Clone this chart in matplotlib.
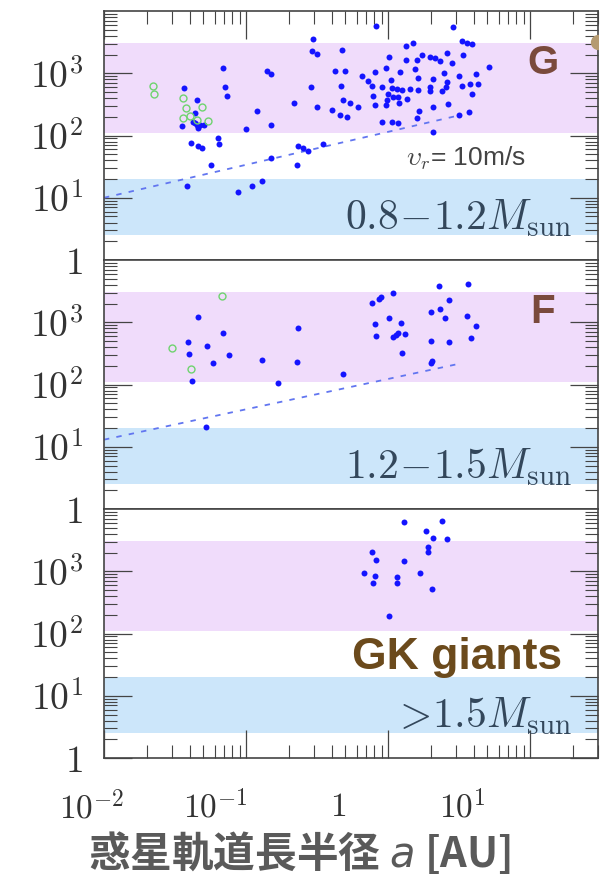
import numpy as np
import matplotlib.pyplot as plt
from matplotlib.ticker import LogLocator, NullFormatter

# semi-major axis a [AU] and mass values, read per stellar class
g_a = [0.069, 0.0366, 0.071, 0.073, 0.045, 0.141, 0.150, 0.218, 0.119, 0.0437,
       0.0354, 0.0424, 0.045, 0.0474, 0.0506, 0.0459, 0.0437, 0.100, 0.150, 0.041,
       0.0459, 0.049, 0.0636, 0.0646, 0.0567, 0.0385, 0.088, 0.110, 0.130, 0.150,
       0.232, 0.229, 0.252, 0.273, 0.348,
       0.82, 2.87, 0.296, 0.292, 0.316, 0.474, 1.34, 1.50, 3.32, 3.59,
       3.91, 0.424, 0.498, 0.287, 0.467, 0.656, 0.81, 0.968, 1.02, 1.34,
       1.60, 1.55, 1.73, 1.98, 2.14, 2.32, 2.60, 2.82, 3.37, 5.14,
       1.22, 1.63, 2.07, 2.48, 2.60, 3.16, 4.17, 3.78, 4.30, 3.32,
       3.91, 0.723, 0.771, 0.908, 1.05, 1.07, 1.16, 1.26, 1.43, 1.63,
       1.98, 1.98, 2.40, 2.56, 1.0, 1.08, 1.18, 1.36, 0.984, 1.19,
       0.784, 0.81, 0.968, 2.07, 2.65, 1.65, 1.60, 0.482, 0.54, 0.615,
       0.316, 0.404, 0.459, 0.514, 0.908, 1.07, 1.18, 2.07, 3.16, 3.72]
g_m = [1200, 573, 594, 425, 367, 1077, 963, 328, 244, 226,
       140, 162, 150, 145, 150, 130, 156, 125, 150, 77,
       69, 62, 90, 72, 34, 15.6, 12.5, 15.6, 18.8, 44,
       67, 34, 62, 57, 72,
       5730, 5520, 3530, 2260, 2020, 2350, 2720, 3050, 3280, 3050,
       2940, 1080, 1080, 594, 617, 895, 1040, 1200, 1810, 1620,
       1620, 1160, 1950, 1810, 1750, 1560, 2100, 1450, 1950, 1250,
       1040, 830, 800, 1000, 716, 895, 963, 665, 665, 617,
       458, 743, 617, 594, 771, 573, 552, 532, 552, 532,
       594, 513, 513, 594, 458, 410, 410, 381, 367, 328,
       425, 305, 305, 283, 316, 244, 188, 367, 328, 283,
       283, 253, 210, 195, 162, 162, 156, 112, 210, 235]
g_open_a = [0.022, 0.0225, 0.036, 0.038, 0.049, 0.036, 0.040, 0.054, 0.045]
g_open_m = [617, 458, 395, 272, 283, 188, 202, 168, 175]

f_a = [0.0459, 0.0391, 0.0397, 0.0531, 0.0689, 0.0759, 0.0586, 0.0417, 0.130, 0.168,
       0.229, 0.232, 0.0522, 2.29, 3.66, 0.771, 0.865, 0.894, 1.08, 2.69,
       2.32, 2.01, 2.52, 3.60, 1.02, 0.81, 1.24, 4.17, 0.822, 1.08,
       1.18, 1.32, 1.14, 2.01, 2.69, 3.84, 1.26, 2.04, 2.01, 0.482]
f_m = [1200, 479, 308, 413, 667, 296, 221, 114, 247, 106,
       229, 802, 20.9, 3770, 4060, 2010, 2330, 2510, 2910, 2250,
       1610, 1450, 1160, 1250, 1160, 929, 964, 863, 597, 575,
       667, 643, 619, 497, 479, 555, 319, 238, 221, 147]
f_open_a = [0.0678, 0.0301, 0.041]
f_open_m = [2610, 384, 177]

gk_a = [1.30, 2.40, 1.85, 2.07, 2.60, 1.91, 1.91, 0.771, 0.822, 1.30,
        0.678, 0.81, 0.784, 1.16, 1.16, 1.68, 2.04, 1.02]
gk_m = [6170, 6400, 4410, 3400, 3280, 2440, 2020, 2020, 1500, 1450,
        929, 830, 640, 800, 640, 929, 513, 188]

# v_r = 10 m/s detection limit
vr_a = [0.01, 3.0]
g_vr_m = [10, 205]
f_vr_m = [13, 210]

edge_a = [30.0]
edge_m = [3160]

purple_band = (110, 3100)
blue_band = (2.5, 20)

y_ticks = [1, 10, 100, 1000]
y_ticklabels = ['$1$', '$10^1$', '$10^2$', '$10^3$']
x_ticks = [0.01, 0.1, 1, 10]
x_ticklabels = ['$10^{-2}$', '$10^{-1}$', '$1$', '$10^1$']
x_label_at = [0.0082, 0.0605, 0.445, 3.32]

panels = [
    ('G', r'$0.8\!-\!1.2M_{\rm sun}$', g_a, g_m, g_open_a, g_open_m, g_vr_m),
    ('F', r'$1.2\!-\!1.5M_{\rm sun}$', f_a, f_m, f_open_a, f_open_m, f_vr_m),
    ('GK giants', r'$>\!1.5M_{\rm sun}$', gk_a, gk_m, [], [], None),
]

# inward ticks as defaults so every tick gets them
plt.rcParams.update({
    'xtick.direction': 'in', 'ytick.direction': 'in',
    'xtick.major.size': 20, 'ytick.major.size': 20,
    'xtick.minor.size': 9.5, 'ytick.minor.size': 9.5,
    'xtick.major.width': 0.9, 'ytick.major.width': 0.9,
    'xtick.minor.width': 0.8, 'ytick.minor.width': 0.8,
    'xtick.color': '#444444', 'ytick.color': '#444444',
    'ytick.left': True, 'ytick.right': True,
    'ytick.major.pad': 15, 'ytick.minor.pad': 15,
    'axes.edgecolor': '#444444', 'axes.linewidth': 1.2,
})

fig, axes = plt.subplots(3, 1, figsize=(6.01, 8.8), dpi=100)
fig.subplots_adjust(left=0.173, right=0.995, top=0.9875, bottom=0.1386, hspace=0)

# axes and ticks
for i, ax in enumerate(axes):
    ax.set_xscale('log')
    ax.set_yscale('log')
    ax.set_xlim(0.01, 30)
    ax.set_ylim(1, 1e4)
    ax.set_yticks(y_ticks)
    ax.set_yticklabels(y_ticklabels, fontsize=27, math_fontfamily='cm', color='#333333')
    ax.yaxis.set_minor_locator(LogLocator(base=10, subs=np.arange(2, 10)))
    ax.yaxis.set_minor_formatter(NullFormatter())
    ax.set_xticks(x_ticks)
    ax.xaxis.set_minor_locator(LogLocator(base=10, subs=np.arange(2, 10)))
    ax.xaxis.set_minor_formatter(NullFormatter())
    ax.tick_params(axis='x', which='both', labelbottom=False,
                   top=(i == 0), bottom=(i == 2))
fig.canvas.draw()

for ax, (cls, mass_txt, a, m, oa, om, vr_m) in zip(axes, panels):
    ax.axhspan(*purple_band, color='#f0dcfb', lw=0, zorder=0)
    ax.axhspan(*blue_band, color='#cce6fa', lw=0, zorder=0)

    if vr_m is not None:
        ax.plot(vr_a, vr_m, color='#6276f0', lw=1.3, dashes=(3, 4), zorder=2)
    ax.plot(a, m, 'o', color='#1414ff', ms=4.3, mew=0, zorder=3)
    if oa:
        ax.plot(oa, om, 'o', mfc='none', mec='#6fd36f', ms=5, mew=1.0, zorder=3)

    if cls == 'GK giants':
        ax.text(0.715, 0.405, cls, transform=ax.transAxes, ha='center', va='center',
                fontsize=32, fontweight='bold', color='#6b4a1c', family='Liberation Sans')
    else:
        ax.text(0.888, 0.79, cls, transform=ax.transAxes, ha='center', va='center',
                fontsize=29, fontweight='bold', color='#7a4a3c', family='Liberation Sans')
    ax.text(0.948, 0.12, mass_txt, transform=ax.transAxes, ha='right', va='baseline',
            fontsize=30, math_fontfamily='cm', color='#33475b')
    ax.set_xlim(0.01, 30)
    ax.set_ylim(1, 1e4)

# partly hidden marker on the right edge of the top panel
axes[0].plot(edge_a, edge_m, 'o', color='#b59a70', ms=11, mew=0, zorder=3)
axes[0].set_xlim(0.01, 30)

axes[0].text(0.611, 0.378, r'$\upsilon_r$= 10m/s', transform=axes[0].transAxes,
             ha='left', va='baseline', fontsize=19, color='#444444',
             family='Liberation Sans', math_fontfamily='cm')

for xl, lab in zip(x_label_at, x_ticklabels):
    axes[2].text(xl, -0.13, lab, transform=axes[2].get_xaxis_transform(),
                 ha='center', va='top', fontsize=24, math_fontfamily='cm',
                 color='#333333', clip_on=False)

fig.text(0.499, 0.031, '惑星軌道長半径 $a$ [AU]', ha='center', va='center',
         fontsize=30, fontweight='bold', color='#5a5a5a',
         family=['Noto Sans CJK JP', 'DejaVu Sans'], math_fontfamily='dejavusans')

fig.canvas.draw()
fig.canvas.draw()
fig.savefig('out.png', dpi=100)
